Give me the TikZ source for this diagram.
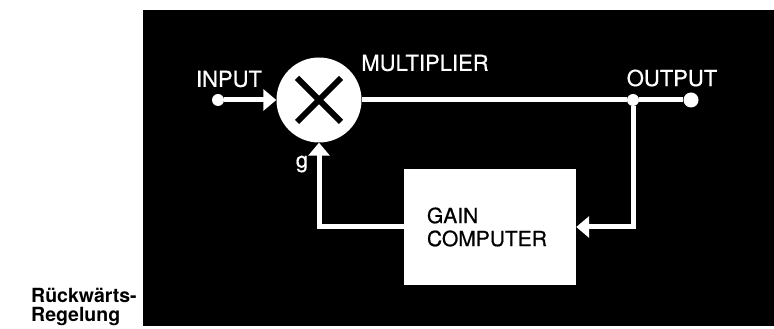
\documentclass[tikz,border=0pt]{standalone}
\usepackage{fontspec}
\setmainfont{TeX Gyre Heros}
\newfontfamily\diagfont[FakeBold=0.6]{TeX Gyre Heros}
\usetikzlibrary{arrows.meta}

\begin{document}
\begin{tikzpicture}[x=1pt, y=1pt, >={Triangle[length=13pt,width=21pt]},
    wire/.style={white, line width=5pt},
    dot/.style={circle, fill=white, inner sep=0pt, minimum size=#1},
    lbl/.style={text=white, inner sep=0pt, font=\diagfont\fontsize{22}{22}\selectfont}]

    % Rahmen des Bildes
    \useasboundingbox (0,0) rectangle (774,329);
    \fill[black] (143,3) rectangle (774,319);

    % 1. Multiplizierer (Kreis mit Kreuz)
    \node[circle, fill=white, minimum size=85pt, inner sep=0pt] (mult) at (319,229) {};
    \draw[line width=6pt] ([shift={(-22,22)}]mult.center) -- ([shift={(22,-22)}]mult.center);
    \draw[line width=6pt] ([shift={(-22,-22)}]mult.center) -- ([shift={(22,22)}]mult.center);

    % 2. Ein- und Ausgangspunkte
    \node[dot=12pt] (in)  at (218,229) {};
    \node[dot=12pt] (jct) at (633,229) {};
    \node[dot=15pt] (out) at (691,229) {};

    % 3. Gain computer
    \node[fill=white, minimum width=172pt, minimum height=116pt, inner xsep=23pt,
          text width=126pt, align=left, font=\diagfont\fontsize{21}{23}\selectfont] (gain)
          at (490,102) {GAIN\\COMPUTER};

    % 4. Verbindungen
    \draw[wire, ->] (in) -- (mult.west);
    \draw[wire] (mult.east) -- (jct) -- (out);
    \draw[wire, ->] (jct) |- (gain.east);
    \draw[wire, ->] (gain.west) -| (mult.south);

    % 5. Beschriftungen
    \node[lbl] (inlbl)  at (229,250) {INPUT};
    \node[lbl] (multlbl) at (425,266) {MULTIPLIER};
    \node[lbl] (outlbl) at (672,251) {OUTPUT};
    \node[lbl] (glbl)   at (302,165) {g};

    % Bildunterschrift links
    \node[anchor=north west, inner sep=0pt, align=left,
          font=\bfseries\fontsize{19.5}{19}\selectfont] (caption)
          at (31,41) {Rückwärts-\\Regelung};

\end{tikzpicture}
\end{document}
